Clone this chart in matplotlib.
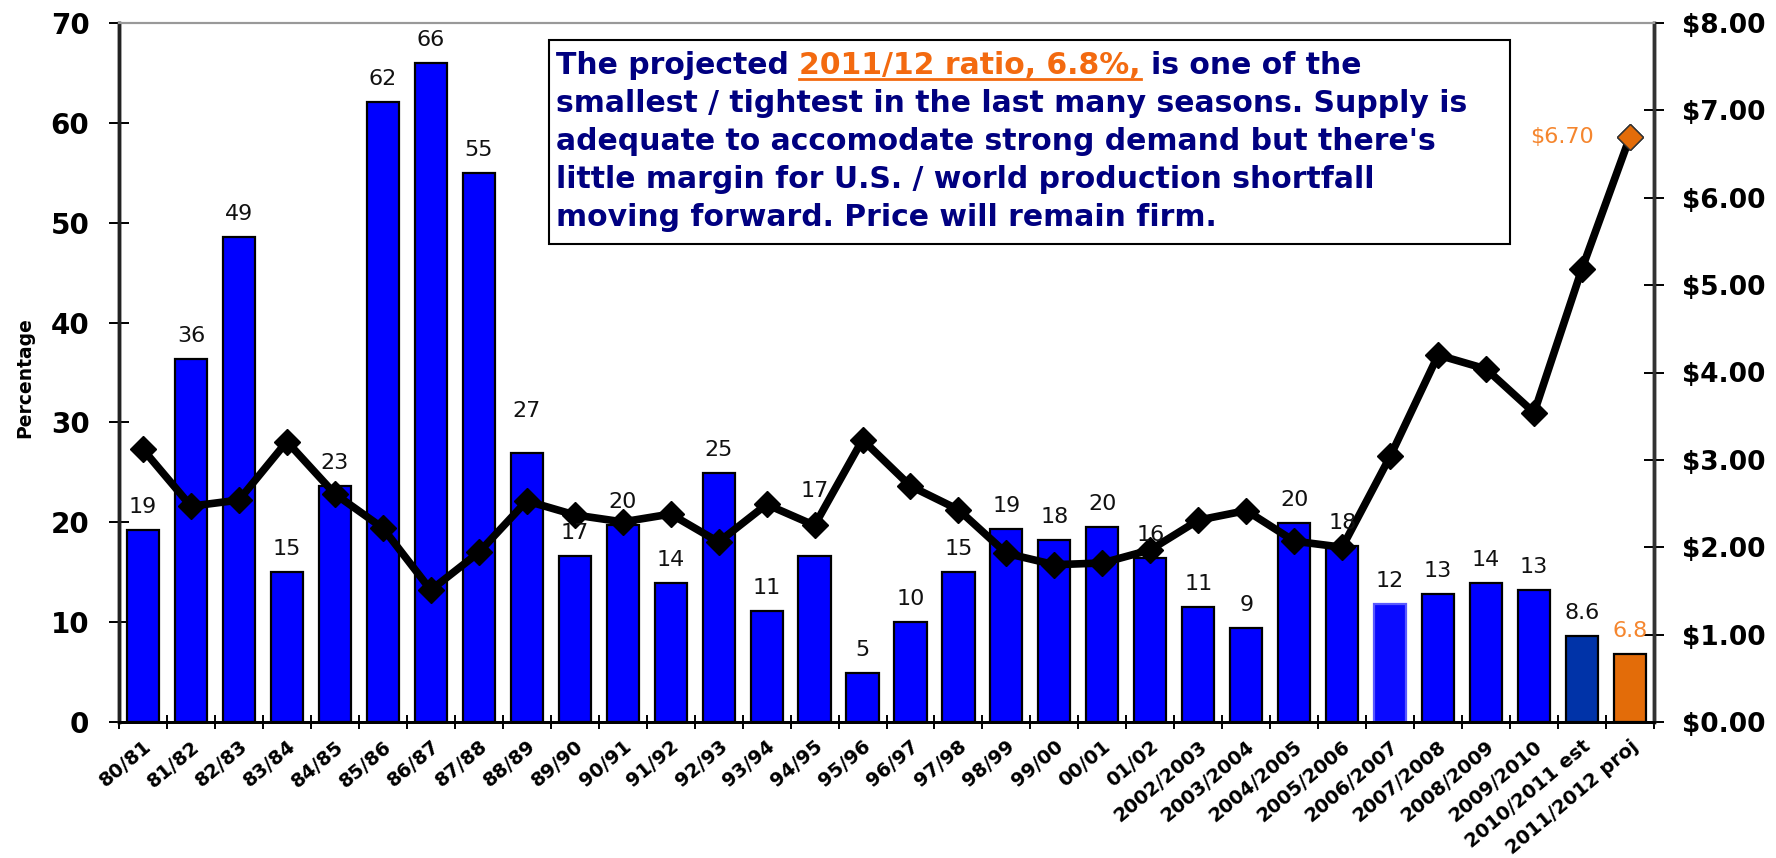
import matplotlib
matplotlib.use("Agg")
import matplotlib.pyplot as plt
from matplotlib.patches import Rectangle
from matplotlib.lines import Line2D
from matplotlib.transforms import ScaledTranslation
import numpy as np

# ---------------- data ----------------
categories = ['80/81', '81/82', '82/83', '83/84', '84/85', '85/86', '86/87', '87/88',
              '88/89', '89/90', '90/91', '91/92', '92/93', '93/94', '94/95', '95/96',
              '96/97', '97/98', '98/99', '99/00', '00/01', '01/02', '2002/2003',
              '2003/2004', '2004/2005', '2005/2006', '2006/2007', '2007/2008',
              '2008/2009', '2009/2010', '2010/2011 est', '2011/2012 proj']
ratio = [19.2, 36.4, 48.6, 15.0, 23.6, 62.1, 66.0, 55.0, 26.9, 16.6, 19.7, 13.9,
         24.9, 11.1, 16.6, 4.9, 10.0, 15.0, 19.3, 18.2, 19.5, 16.4, 11.5, 9.4,
         19.9, 17.6, 11.8, 12.8, 13.9, 13.2, 8.6, 6.8]
ratio_labels = ['19', '36', '49', '15', '23', '62', '66', '55', '27', '17', '20', '14',
                '25', '11', '17', '5', '10', '15', '19', '18', '20', '16', '11', '9',
                '20', '18', '12', '13', '14', '13', '8.6', '6.8']
price = [3.12, 2.47, 2.54, 3.21, 2.61, 2.22, 1.51, 1.94, 2.53, 2.37, 2.29, 2.38,
         2.06, 2.49, 2.25, 3.23, 2.70, 2.43, 1.93, 1.80, 1.82, 1.97, 2.31, 2.42,
         2.07, 2.00, 3.04, 4.20, 4.04, 3.54, 5.19, 6.70]
left_ticks = [0, 10, 20, 30, 40, 50, 60, 70]
right_ticks = [0, 1, 2, 3, 4, 5, 6, 7, 8]
price_label = '$6.70'
box_line1 = ['The projected', '2011/12 ratio, 6.8%,', 'is one of the']
box_lines = ['smallest / tightest in the last many seasons. Supply is',
             "adequate to accomodate strong demand but there's",
             'little margin for U.S. / world production shortfall',
             'moving forward. Price will remain firm.']

# ---------------- styling ----------------
W, H = 1776, 858
BLUE = '#0000FF'
NAVY = '#000080'
ORANGE = '#E36C09'
LORANGE = '#F5862E'
TXTORANGE = '#F36A10'

plt.rcParams['font.family'] = ['DejaVu Sans']

fig = plt.figure(figsize=(W / 100, H / 100), dpi=100)
L, R, T, B = 119, 1654, 23, 722
ax = fig.add_axes([L / W, 1 - B / H, (R - L) / W, (B - T) / H])
ax2 = ax.twinx()

n = len(categories)
x = np.arange(n)
bar_colors = [BLUE] * n
edge_colors = ['black'] * n
bar_colors[26] = '#0A0AFF'
edge_colors[26] = '#5A5AFF'
bar_colors[30] = '#0033A8'
bar_colors[31] = ORANGE

ax.bar(x, ratio, width=0.67, color=bar_colors, edgecolor=edge_colors, linewidth=1.6, zorder=2)

label_extra = {8: 1.9, 14: 4.2}
for i, (v, lab) in enumerate(zip(ratio, ratio_labels)):
    col = LORANGE if i == n - 1 else '#111111'
    ax2.text(i, v + 2.3 + label_extra.get(i, 0), lab, ha='center', va='center',
             fontsize=16, color=col, zorder=6, transform=ax.transData)

ax.set_xlim(-0.5, n - 0.5)
ax.set_ylim(0, 70)
ax.set_yticks(left_ticks)
ax.set_yticklabels([str(t) for t in left_ticks], fontsize=20, fontweight='bold')
ax.tick_params(axis='y', direction='inout', length=14.5, width=1.4, pad=14, colors='black')

ax.set_xticks(x)
ax.set_xticklabels(categories, fontsize=14, fontweight='bold', rotation=40,
                   ha='right', va='center', rotation_mode='anchor')
ax.set_xticks(np.arange(n + 1) - 0.5, minor=True)
ax.tick_params(axis='x', which='major', length=0, pad=16)
ax.tick_params(axis='x', which='minor', direction='inout', length=9.5, width=1.4)
offset = ScaledTranslation(6 / 100, 0, fig.dpi_scale_trans)
for lbl in ax.get_xticklabels():
    lbl.set_transform(lbl.get_transform() + offset)

ax2.plot(x, price, color='black', linewidth=5.5, marker='D', markersize=13,
         markerfacecolor='black', markeredgecolor='black', zorder=4)
ax2.plot([x[-1]], [price[-1]], marker='D', markersize=13, markerfacecolor=ORANGE,
         markeredgecolor='#333333', markeredgewidth=1, linestyle='none', zorder=5)
ax2.annotate(price_label, xy=(x[-1], price[-1]), xytext=(-26, 0), textcoords='offset points',
             ha='right', va='center', fontsize=16, color=LORANGE)
ax2.set_ylim(0, 8)
ax2.set_yticks(right_ticks)
ax2.set_yticklabels(['$%.2f' % t for t in right_ticks], fontsize=19, fontweight='bold')
ax2.tick_params(axis='y', direction='inout', length=15, width=1.4, pad=13, colors='black')

for a in (ax, ax2):
    a.spines['top'].set_color('#999999')
    a.spines['top'].set_linewidth(1.5)
    a.spines['bottom'].set_color('black')
    a.spines['bottom'].set_linewidth(2)
    a.spines['left'].set_color('#222222')
    a.spines['left'].set_linewidth(2.5)
    a.spines['right'].set_color('#333333')
    a.spines['right'].set_linewidth(2.5)
    a.set_facecolor('none')

fig.text(25 / W, 1 - 378 / H, 'Percentage', rotation=90, ha='center', va='center',
         fontsize=13.5, fontweight='bold')

# ---------------- annotation box ----------------
bx0, by0, bx1, by1 = 549, 40, 1510, 244
fig.patches.append(Rectangle((bx0 / W, 1 - by1 / H), (bx1 - bx0) / W, (by1 - by0) / H,
                             transform=fig.transFigure, facecolor='white',
                             edgecolor='black', linewidth=1.5, zorder=5))
fs = 21.5
tx = 556
baselines = [74, 112, 150, 188, 226]
fig.canvas.draw()
renderer = fig.canvas.get_renderer()

def width_of(s):
    t = fig.text(0, 0, s, fontsize=fs, fontweight='bold')
    w = t.get_window_extent(renderer).width
    t.remove()
    return w

space_w = width_of('a a') - width_of('aa')
cur = tx
yb = 1 - baselines[0] / H
pieces_colors = [NAVY, TXTORANGE, NAVY]
for k, (s, c) in enumerate(zip(box_line1, pieces_colors)):
    t = fig.text(cur / W, yb, s, fontsize=fs, fontweight='bold', color=c,
                 ha='left', va='baseline', zorder=6)
    w = t.get_window_extent(renderer).width
    if k == 1:
        fig.lines.append(Line2D([cur / W, (cur + w) / W], [yb - 5 / H, yb - 5 / H],
                                transform=fig.transFigure, color=TXTORANGE,
                                linewidth=2, zorder=6))
    cur += w + space_w
for s, b in zip(box_lines, baselines[1:]):
    fig.text(tx / W, 1 - b / H, s, fontsize=fs, fontweight='bold', color=NAVY,
             ha='left', va='baseline', zorder=6)

fig.savefig('out.png', dpi=100, facecolor='white')
